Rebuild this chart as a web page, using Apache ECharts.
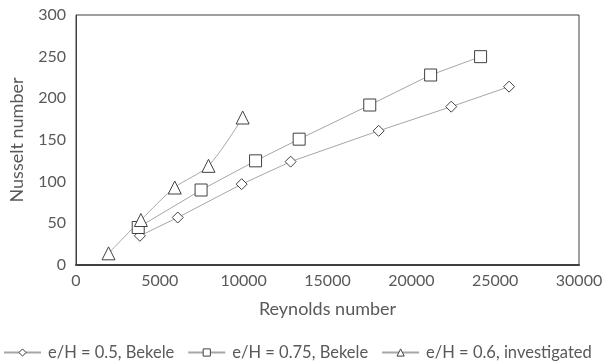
<!DOCTYPE html>
<html><head><meta charset="utf-8">
<script src="https://cdn.jsdelivr.net/npm/echarts@6/dist/echarts.min.js"></script>
<style>html,body{margin:0;padding:0;background:#fff}#c{width:609px;height:362px}</style>
</head><body><div id="c"></div>
<script>
const seriesNames = ['e/H = 0.5, Bekele', 'e/H = 0.75, Bekele', 'e/H = 0.6, investigated'];
const reDiamond = [3810, 6070, 9880, 12800, 18050, 22380, 25830];
const nuDiamond = [35, 57, 97, 124, 161, 190, 214];
const reSquare = [3710, 7460, 10710, 13310, 17520, 21150, 24130];
const nuSquare = [45, 90, 125, 151, 192, 228, 250];
const reTriangle = [1940, 3870, 5890, 7900, 9940];
const nuTriangle = [14, 54, 93, 119, 177];
const xTicks = [0, 5000, 10000, 15000, 20000, 25000, 30000];
const yTicks = [0, 50, 100, 150, 200, 250, 300];

const pair = (xs, ys) => xs.map((x, i) => [x, ys[i]]);
const font = 'Lato, "Open Sans", sans-serif';
const txt = '#595959';
const mk = (name, data, symbol, size, smooth) => ({
  name, type: 'line', data, symbol, symbolSize: size, smooth,
  lineStyle: {color: '#a6a6a6', width: 1},
  itemStyle: {color: '#fff', borderColor: '#404040', borderWidth: 1},
  emphasis: {disabled: true}
});
const chart = echarts.init(document.getElementById('c'));
chart.setOption({
  animation: false,
  grid: {left: 75, right: 30, top: 15, bottom: 97, show: true, borderColor: '#404040', borderWidth: 1},
  xAxis: {
    type: 'value', min: xTicks[0], max: xTicks[xTicks.length - 1], interval: 5000,
    name: 'Reynolds number', nameLocation: 'middle', nameGap: 35,
    nameTextStyle: {color: txt, fontSize: 18, fontFamily: font},
    axisLine: {lineStyle: {color: '#404040', width: 2}},
    axisTick: {show: false}, splitLine: {show: false},
    axisLabel: {color: txt, fontSize: 16, fontFamily: font, margin: 8, formatter: v => String(v)}
  },
  yAxis: {
    type: 'value', min: yTicks[0], max: yTicks[yTicks.length - 1], interval: 50,
    name: 'Nusselt number', nameLocation: 'middle', nameGap: 50,
    nameTextStyle: {color: txt, fontSize: 18, fontFamily: font},
    axisLine: {show: true, lineStyle: {color: '#404040', width: 1}},
    axisTick: {show: false}, splitLine: {show: false},
    axisLabel: {color: txt, fontSize: 16, fontFamily: font, margin: 10, formatter: v => String(v)}
  },
  legend: {
    bottom: 1, left: 3, width: 606, padding: 0, itemGap: 13, itemWidth: 37, itemHeight: 9,
    textStyle: {color: txt, fontSize: 16.5, fontFamily: font, padding: [0, 0, 0, 2]},
    itemStyle: {borderWidth: 1},
    data: seriesNames
  },
  series: [
    mk(seriesNames[0], pair(reDiamond, nuDiamond), 'diamond', 11, false),
    mk(seriesNames[1], pair(reSquare, nuSquare), 'rect', 12, false),
    mk(seriesNames[2], pair(reTriangle, nuTriangle), 'triangle', 13, 0.3)
  ]
});
</script></body></html>
